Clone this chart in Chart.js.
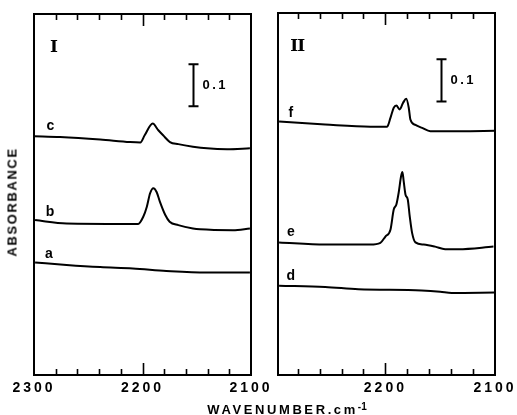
<!DOCTYPE html>
<html>
<head>
<meta charset="utf-8">
<script src="https://cdn.jsdelivr.net/npm/chart.js@4/dist/chart.umd.min.js"></script>
<style>
  html, body { margin: 0; padding: 0; background: #fff; }
  body { width: 517px; height: 415px; position: relative; overflow: hidden; }
  canvas { position: absolute; left: 0; top: 0; }
  .ytitle {
    position: absolute; left: 12px; top: 202px;
    transform: translate(-50%, -50%) rotate(-90deg);
    font: bold 13px "Liberation Sans", Arial, sans-serif; letter-spacing: 1.6px;
    white-space: nowrap; color: #000;
  }
  .xtitle {
    position: absolute; left: 287px; top: 409px;
    transform: translate(-50%, -50%);
    font: bold 13px "Liberation Sans", Arial, sans-serif; letter-spacing: 2.6px;
    white-space: nowrap; color: #000;
  }
  .xtitle sup { font-size: 10px; letter-spacing: 0; vertical-align: 4px; line-height: 0; }
</style>
</head>
<body>
<canvas id="chart-left" width="517" height="415"></canvas>
<canvas id="chart-right" width="540" height="415"></canvas>
<div class="ytitle">ABSORBANCE</div>
<div class="xtitle">WAVENUMBER.cm<sup>-1</sup></div>
<script>
// panel I spectra (wavenumber, absorbance with plotting offset)
const aWn = [2299, 2270, 2239, 2209, 2178, 2141, 2101];
const aAbs = [0.268, 0.262, 0.257, 0.254, 0.248, 0.244, 0.244];

const bWn = [2299, 2270, 2216, 2204, 2199.3, 2196, 2193, 2190, 2187, 2184, 2179, 2175, 2167, 2153.5, 2147, 2116.6, 2101];
const bAbs = [0.369, 0.361, 0.360, 0.360, 0.377, 0.401, 0.433, 0.445, 0.436, 0.413, 0.381, 0.365, 0.357, 0.349, 0.347, 0.345, 0.349];

const cWn = [2300, 2276, 2239, 2211.5, 2202, 2198, 2190.6, 2185.4, 2181, 2174.7, 2167, 2153.5, 2140.5, 2122, 2101];
const cAbs = [0.569, 0.567, 0.561, 0.555, 0.554, 0.571, 0.599, 0.583, 0.571, 0.555, 0.550, 0.544, 0.540, 0.538, 0.540];

// panel II spectra
const dWn = [2297, 2255, 2224.7, 2167, 2150, 2139.5, 2100];
const dAbs = [0.212, 0.209, 0.204, 0.201, 0.198, 0.195, 0.196];

const eWn = [2297, 2255, 2213.7, 2204.6, 2200, 2195.4, 2192.4, 2190, 2187.9, 2185.7, 2184.5, 2183.3, 2181.7, 2179.6, 2177.8, 2175.6, 2172.6, 2165, 2154.6, 2145.5, 2133.3, 2101.4];
const eAbs = [0.315, 0.310, 0.310, 0.314, 0.329, 0.345, 0.393, 0.405, 0.433, 0.472, 0.482, 0.460, 0.429, 0.417, 0.377, 0.337, 0.315, 0.310, 0.305, 0.299, 0.299, 0.305];

const fWn = [2297, 2255, 2213.7, 2198.4, 2195.4, 2192.4, 2190, 2187, 2183.8, 2181, 2178.7, 2177.2, 2172.6, 2166.5, 2159, 2131.5, 2099.5];
const fAbs = [0.602, 0.595, 0.590, 0.590, 0.611, 0.635, 0.640, 0.631, 0.647, 0.656, 0.635, 0.607, 0.594, 0.587, 0.579, 0.579, 0.580];

const leftRange = [2100, 2300];
const rightRange = [2100, 2298];
const tickStep = 20;
const scaleBarSize = 0.1;

const FONT = '"Liberation Sans", Arial, sans-serif';

function series(wn, abs) {
  return {
    data: wn.map((w, i) => ({ x: w, y: abs[i] })),
    borderColor: "#000",
    borderWidth: 2,
    pointRadius: 0,
    cubicInterpolationMode: "monotone",
    fill: false,
  };
}

// frame, inward ticks, curve letters, panel numeral and 0.1 scale bar
const panelDecor = {
  id: "panelDecor",
  beforeDraw(chart) { chart.ctx.letterSpacing = "3px"; },
  afterDraw(chart, args, opts) {
    const { ctx, chartArea: ca, scales: { x, y } } = chart;
    ctx.save();
    ctx.letterSpacing = "0px";
    ctx.strokeStyle = "#000";
    ctx.lineWidth = 2;
    ctx.strokeRect(ca.left, ca.top, ca.right - ca.left, ca.bottom - ca.top);
    ctx.beginPath();
    x.ticks.forEach((t) => {
      const px = Math.round(x.getPixelForValue(t.value)) + 0.5;
      if (px <= ca.left + 2 || px >= ca.right - 2) return;
      const len = t.value % 100 === 0 ? 12 : 6;
      ctx.moveTo(px, ca.bottom); ctx.lineTo(px, ca.bottom - len);
      ctx.moveTo(px, ca.top); ctx.lineTo(px, ca.top + len);
    });
    ctx.lineWidth = 1.6;
    ctx.stroke();

    ctx.fillStyle = "#000";
    ctx.textAlign = "center";
    ctx.textBaseline = "middle";
    ctx.font = "bold 14px " + FONT;
    opts.letters.forEach((l) => {
      ctx.fillText(l.text, x.getPixelForValue(l.x), y.getPixelForValue(l.y));
    });
    ctx.font = "bold 17px 'DejaVu Serif', serif";
    ctx.letterSpacing = opts.numeral.spacing;
    ctx.fillText(opts.numeral.text, x.getPixelForValue(opts.numeral.x), y.getPixelForValue(opts.numeral.y));
    ctx.letterSpacing = "0px";

    const bx = Math.round(x.getPixelForValue(opts.bar.x)) + 0.5;
    const yb = y.getPixelForValue(opts.bar.y);
    const yt = y.getPixelForValue(opts.bar.y + scaleBarSize);
    ctx.lineWidth = 2;
    ctx.beginPath();
    ctx.moveTo(bx, yb); ctx.lineTo(bx, yt);
    ctx.moveTo(bx - 5, yb); ctx.lineTo(bx + 5, yb);
    ctx.moveTo(bx - 5, yt); ctx.lineTo(bx + 5, yt);
    ctx.stroke();
    ctx.textAlign = "left";
    ctx.font = "bold 13px " + FONT;
    ctx.letterSpacing = "2.5px";
    ctx.fillText("0.1", bx + 9, (yb + yt) / 2);
    ctx.restore();
    chart.ctx.letterSpacing = "0px";
  },
};

function makePanel(id, range, datasets, padding, decor) {
  return new Chart(document.getElementById(id), {
    type: "line",
    data: { datasets },
    options: {
      responsive: false,
      animation: false,
      events: [],
      layout: { padding },
      plugins: { legend: { display: false }, tooltip: { enabled: false }, panelDecor: decor },
      scales: {
        x: {
          type: "linear",
          reverse: true,
          min: range[0],
          max: range[1],
          afterFit: (s) => { s.height = 40; },
          grid: { display: false, drawTicks: false },
          border: { display: false },
          ticks: {
            stepSize: tickStep,
            includeBounds: false,
            autoSkip: false,
            maxRotation: 0,
            padding: 5,
            color: "#000",
            font: { family: FONT, size: 14, weight: "bold" },
            callback: (v) => (v % 100 === 0 ? String(v) : ""),
          },
        },
        y: { display: false, min: 0, max: 0.86 },
      },
    },
    plugins: [panelDecor],
  });
}

makePanel("chart-left", leftRange,
  [series(aWn, aAbs), series(bWn, bAbs), series(cWn, cAbs)],
  { left: 34, right: 266, top: 14, bottom: 0 },
  {
    letters: [
      { text: "c", x: 2284.8, y: 0.592 },
      { text: "b", x: 2285.3, y: 0.388 },
      { text: "a", x: 2286.2, y: 0.288 },
    ],
    numeral: { text: "I", x: 2281.6, y: 0.781, spacing: "0px" },
    bar: { x: 2153.7, y: 0.640 },
  });

makePanel("chart-right", rightRange,
  [series(dWn, dAbs), series(eWn, eAbs), series(fWn, fAbs)],
  { left: 278, right: 45, top: 13, bottom: 0 },
  {
    letters: [
      { text: "f", x: 2286.3, y: 0.621 },
      { text: "e", x: 2286.3, y: 0.339 },
      { text: "d", x: 2286.3, y: 0.236 },
    ],
    numeral: { text: "II", x: 2280.4, y: 0.781, spacing: "-1px" },
    bar: { x: 2149.1, y: 0.650 },
  });
</script>
</body>
</html>
